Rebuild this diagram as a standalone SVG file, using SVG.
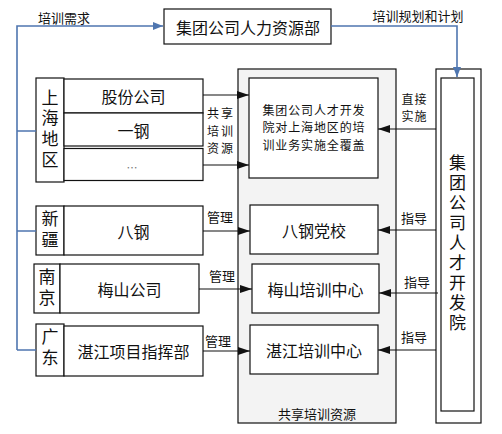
<svg xmlns="http://www.w3.org/2000/svg" width="502" height="434" viewBox="0 0 502 434">
<style>
text{font-family:"Noto Sans CJK SC","Noto Sans",sans-serif;fill:#111;dominant-baseline:central;text-anchor:middle}
.v{writing-mode:vertical-rl;font-size:17px}
.b{fill:#fff;stroke:#111;stroke-width:1.2}
.g{fill:#f3f3f3;stroke:#111;stroke-width:1.2}
.t16{font-size:16px}
.t13{font-size:13px}
.t12{font-size:12px}
.c{stroke:#111;stroke-width:1.2;fill:none}
.bl{stroke:#4f76b0;stroke-width:1.6;fill:none}
</style>
<defs>
<marker id="ah" viewBox="0 0 12 8" refX="12" refY="4" markerWidth="12" markerHeight="8" markerUnits="userSpaceOnUse" orient="auto"><path d="M0,0 L12,4 L0,8 z" fill="#111"/></marker>
<marker id="bh" viewBox="0 0 10 8" refX="10" refY="4" markerWidth="10" markerHeight="8" markerUnits="userSpaceOnUse" orient="auto"><path d="M0,0 L10,4 L0,8 z" fill="#4f76b0"/></marker>
</defs>
<rect width="502" height="434" fill="#fff"/>

<g id="shared-resources">
<rect class="g" x="238" y="69" width="158" height="354"/>
<text class="t13" x="317" y="413">共享培训资源</text>
</g>

<g id="hr-dept">
<rect class="b" x="164" y="9" width="167" height="35"/>
<text class="t16" x="248" y="27">集团公司人力资源部</text>
</g>

<g id="shanghai">
<rect class="b" x="36" y="78" width="28" height="104"/>
<text class="v" x="50" y="130" style="letter-spacing:3.7px">上海地区</text>
</g>
<g id="gufen">
<rect class="b" x="64" y="79" width="139" height="34"/>
<text class="t16" x="133.5" y="96">股份公司</text>
</g>
<g id="yigang">
<rect class="b" x="64" y="113" width="139" height="33"/>
<text class="t16" x="133.5" y="129.5">一钢</text>
</g>
<g id="etc">
<rect class="b" x="64" y="148.5" width="139" height="32"/>
<text x="132" y="167" style="font-size:11px;fill:#777">…</text>
</g>

<g id="xinjiang">
<rect class="b" x="36" y="206" width="28" height="49"/>
<text class="v" x="50" y="231.5" style="letter-spacing:4px">新疆</text>
</g>
<g id="bagang">
<rect class="b" x="64" y="206" width="139" height="49"/>
<text class="t16" x="133.5" y="230.5">八钢</text>
</g>

<g id="nanjing">
<rect class="b" x="34" y="264" width="26" height="49"/>
<text class="v" x="47" y="289.5" style="letter-spacing:4px">南京</text>
</g>
<g id="meishan">
<rect class="b" x="60" y="264" width="139" height="49"/>
<text class="t16" x="129.5" y="288.5">梅山公司</text>
</g>

<g id="guangdong">
<rect class="b" x="36" y="324" width="28" height="52"/>
<text class="v" x="50" y="349.5" style="letter-spacing:4px">广东</text>
</g>
<g id="zhanjiang-hq">
<rect class="b" x="64" y="326" width="139" height="50"/>
<text class="t16" x="133.5" y="351">湛江项目指挥部</text>
</g>

<g id="coverage">
<rect class="b" x="249" y="78" width="129" height="100"/>
<text class="t12"><tspan x="313.5" y="108.5" textLength="102" lengthAdjust="spacing">集团公司人才开发</tspan><tspan x="313.5" y="126" textLength="102" lengthAdjust="spacing">院对上海地区的培</tspan><tspan x="313.5" y="143.5" textLength="102" lengthAdjust="spacing">训业务实施全覆盖</tspan></text>
</g>
<g id="bagang-school">
<rect class="b" x="250" y="205" width="128" height="49"/>
<text class="t16" x="314" y="229.5">八钢党校</text>
</g>
<g id="meishan-center">
<rect class="b" x="252" y="264" width="127" height="49"/>
<text class="t16" x="315.5" y="288.5">梅山培训中心</text>
</g>
<g id="zhanjiang-center">
<rect class="b" x="250" y="325" width="128" height="49"/>
<text class="t16" x="314" y="349.5">湛江培训中心</text>
</g>

<g id="academy">
<rect class="b" x="436" y="69" width="45" height="354"/>
<rect class="b" x="441" y="78" width="33" height="333"/>
<text class="v" x="457.5" y="244.5" style="letter-spacing:3px">集团公司人才开发院</text>
</g>

<g id="connectors">
<path class="bl" d="M17,350 V26 H163" marker-end="url(#bh)"/>
<path class="bl" d="M17,131 H36 M17,231 H36 M17,350 H36"/>
<path class="bl" d="M331,26 H457 V77" marker-end="url(#bh)"/>
<text class="t13" x="64" y="17">培训需求</text>
<text class="t13" x="418" y="15">培训规划和计划</text>

<path class="c" d="M203,95 H249" marker-end="url(#ah)"/>
<path class="c" d="M203,165 H249" marker-end="url(#ah)"/>
<text class="t12"><tspan x="220" y="112" textLength="26" lengthAdjust="spacing">共享</tspan><tspan x="220" y="129.5" textLength="26" lengthAdjust="spacing">培训</tspan><tspan x="220" y="147" textLength="26" lengthAdjust="spacing">资源</tspan></text>

<path class="c" d="M203,231 H250" marker-end="url(#ah)"/>
<text class="t13" x="220" y="216">管理</text>
<path class="c" d="M199,289 H252" marker-end="url(#ah)"/>
<text class="t13" x="222" y="275">管理</text>
<path class="c" d="M203,351 H250" marker-end="url(#ah)"/>
<text class="t13" x="218" y="340">管理</text>

<path class="c" d="M436,129 H378" marker-end="url(#ah)"/>
<text class="t12"><tspan x="414" y="97.5" textLength="25" lengthAdjust="spacing">直接</tspan><tspan x="414" y="115" textLength="25" lengthAdjust="spacing">实施</tspan></text>
<path class="c" d="M436,230 H378" marker-end="url(#ah)"/>
<text class="t13" x="414" y="217">指导</text>
<path class="c" d="M438,293 H379" marker-end="url(#ah)"/>
<text class="t13" x="417" y="281">指导</text>
<path class="c" d="M436,350 H378" marker-end="url(#ah)"/>
<text class="t13" x="414" y="336">指导</text>
</g>
</svg>
